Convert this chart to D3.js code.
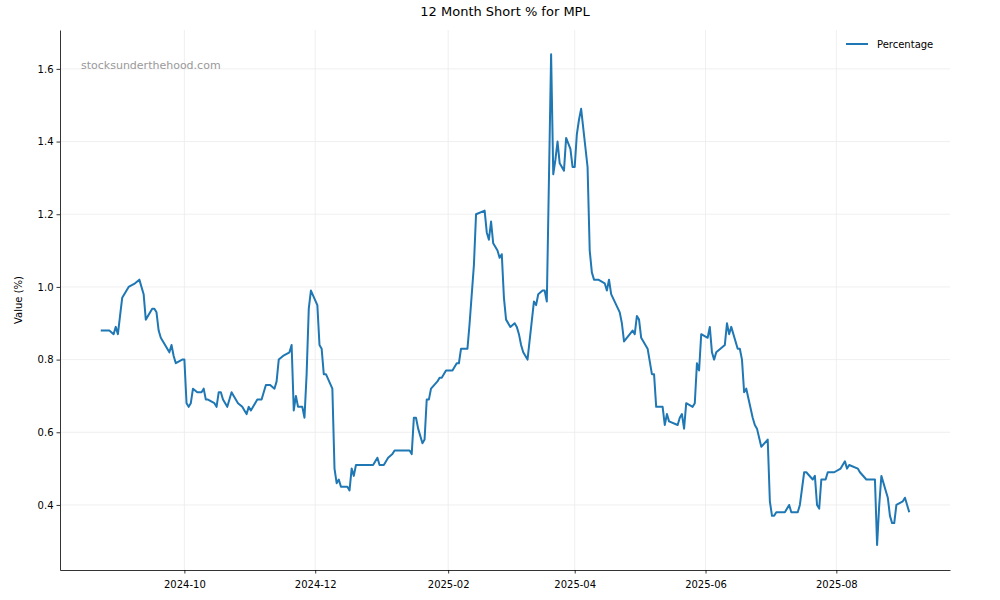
<!DOCTYPE html>
<html><head><meta charset="utf-8">
<script src="https://cdn.jsdelivr.net/npm/d3@7"></script>
<style>body{margin:0;background:#fff;font-family:"DejaVu Sans",sans-serif}</style>
</head><body><svg id="c" width="1000" height="600"></svg>
<script>
const startDate = "2024-08-23";
const dayOffsets = [0,4,6,7,8,9,10,13,16,18,20,21,24,25,26,27,28,30,32,33,34,35,38,39,40,41,42,43,45,47,48,49,50,53,54,55,56,57,59,61,62,64,66,67,68,69,70,73,75,76,77,79,81,82,83,85,88,89,90,91,92,94,95,96,97,98,101,102,103,104,105,108,109,110,111,112,115,116,117,118,119,123,127,129,130,132,134,136,137,144,145,146,147,148,150,151,152,153,154,157,158,159,161,164,166,167,168,171,172,174,175,179,180,181,182,183,185,186,187,188,189,191,193,194,195,196,197,199,202,203,204,206,207,208,210,211,212,213,214,216,217,219,220,221,222,223,224,227,228,229,230,232,235,236,237,238,242,243,244,248,249,250,251,252,255,257,258,259,262,263,264,265,269,270,271,272,273,276,277,278,279,280,283,284,285,286,287,291,292,293,294,297,298,299,300,301,304,305,306,308,311,312,313,314,315,319,321,322,325,326,328,329,332,333,334,335,336,338,339,342,345,347,348,349,353,354,357,361,362,363,364,367,368,369,370,371,374,375,377];
const values = [.88,.88,.87,.89,.87,.92,.97,1.00,1.01,1.02,.98,.91,.94,.94,.93,.88,.86,.84,.82,.84,.81,.79,.80,.80,.68,.67,.68,.72,.71,.71,.72,.69,.69,.68,.67,.71,.71,.69,.67,.71,.70,.68,.67,.66,.65,.67,.66,.69,.69,.71,.73,.73,.72,.74,.80,.81,.82,.84,.66,.70,.67,.67,.64,.76,.94,.99,.95,.84,.83,.76,.76,.72,.50,.46,.47,.45,.45,.44,.50,.48,.51,.51,.51,.53,.51,.51,.53,.54,.55,.55,.54,.64,.64,.61,.57,.58,.69,.69,.72,.74,.75,.75,.77,.77,.79,.79,.83,.83,.90,1.06,1.20,1.21,1.15,1.13,1.18,1.12,1.10,1.08,1.09,.97,.91,.89,.90,.89,.87,.84,.82,.80,.96,.95,.98,.99,.99,.96,1.64,1.31,1.35,1.40,1.34,1.32,1.41,1.38,1.33,1.33,1.42,1.46,1.49,1.33,1.10,1.04,1.02,1.02,1.01,.99,1.02,.98,.93,.90,.85,.88,.87,.92,.91,.86,.83,.76,.76,.67,.67,.62,.65,.63,.62,.64,.65,.61,.68,.67,.68,.79,.77,.87,.86,.89,.82,.80,.82,.84,.90,.87,.89,.83,.83,.80,.71,.72,.64,.62,.61,.56,.58,.41,.37,.37,.38,.38,.40,.38,.38,.40,.49,.49,.47,.48,.40,.39,.47,.47,.49,.49,.50,.52,.50,.51,.50,.49,.47,.47,.29,.40,.48,.42,.37,.35,.35,.40,.41,.42,.38];
const yTicks = [0.4,0.6,0.8,1.0,1.2,1.4,1.6];
const xTickDates = ["2024-10-01","2024-12-01","2025-02-01","2025-04-01","2025-06-01","2025-08-01"];

const svg = d3.select("#c");
const m = {l:60, r:950, t:30, b:570};
const parse = d3.utcParse("%Y-%m-%d");
const s0 = parse(startDate);
const data = dayOffsets.map((d,i)=>({date:d3.utcDay.offset(s0,d), v:values[i]}));
const x = d3.scaleUtc().domain([parse("2024-08-04"), parse("2025-09-23")]).range([m.l,m.r]);
const y = d3.scaleLinear().domain([0.221,1.707]).range([m.b,m.t]);

const g = svg.append("g");
g.selectAll(".gx").data(xTickDates.map(parse)).join("line").attr("x1",d=>x(d)).attr("x2",d=>x(d)).attr("y1",m.t).attr("y2",m.b).attr("stroke","#ebebeb").attr("stroke-width",0.8);
g.selectAll(".gy").data(yTicks).join("line").attr("y1",d=>y(d)).attr("y2",d=>y(d)).attr("x1",m.l).attr("x2",m.r).attr("stroke","#ebebeb").attr("stroke-width",0.8);

const xa = svg.append("g").attr("transform",`translate(0,${m.b})`).call(d3.axisBottom(x).tickValues(xTickDates.map(parse)).tickFormat(d3.utcFormat("%Y-%m")).tickSize(3.5).tickSizeOuter(0));
const ya = svg.append("g").attr("transform",`translate(${m.l},0)`).call(d3.axisLeft(y).tickValues(yTicks).tickFormat(d3.format(".1f")).tickSize(3.5).tickSizeOuter(0));
[xa,ya].forEach(a=>{a.selectAll("text").attr("font-size",10).attr("fill","#000").attr("font-family","DejaVu Sans");a.selectAll("line,path").attr("stroke","#000").attr("stroke-width",0.8);});
xa.selectAll("text").attr("dy","1.1em");

svg.append("path").datum(data).attr("fill","none").attr("stroke","#1f77b4").attr("stroke-width",2)
  .attr("stroke-linejoin","round").attr("d",d3.line().x(d=>x(d.date)).y(d=>y(d.v)));

svg.append("text").attr("x",505).attr("y",16).attr("text-anchor","middle").attr("font-size",13).text("12 Month Short % for MPL");
svg.append("text").attr("transform","translate(22,300) rotate(-90)").attr("text-anchor","middle").attr("font-size",10).text("Value (%)");
svg.append("text").attr("x",81).attr("y",69).attr("font-size",11).attr("fill","#999").text("stocksunderthehood.com");
svg.append("line").attr("x1",846).attr("x2",868).attr("y1",44).attr("y2",44).attr("stroke","#1f77b4").attr("stroke-width",2);
svg.append("text").attr("x",877).attr("y",48).attr("font-size",10).text("Percentage");
</script></body></html>
